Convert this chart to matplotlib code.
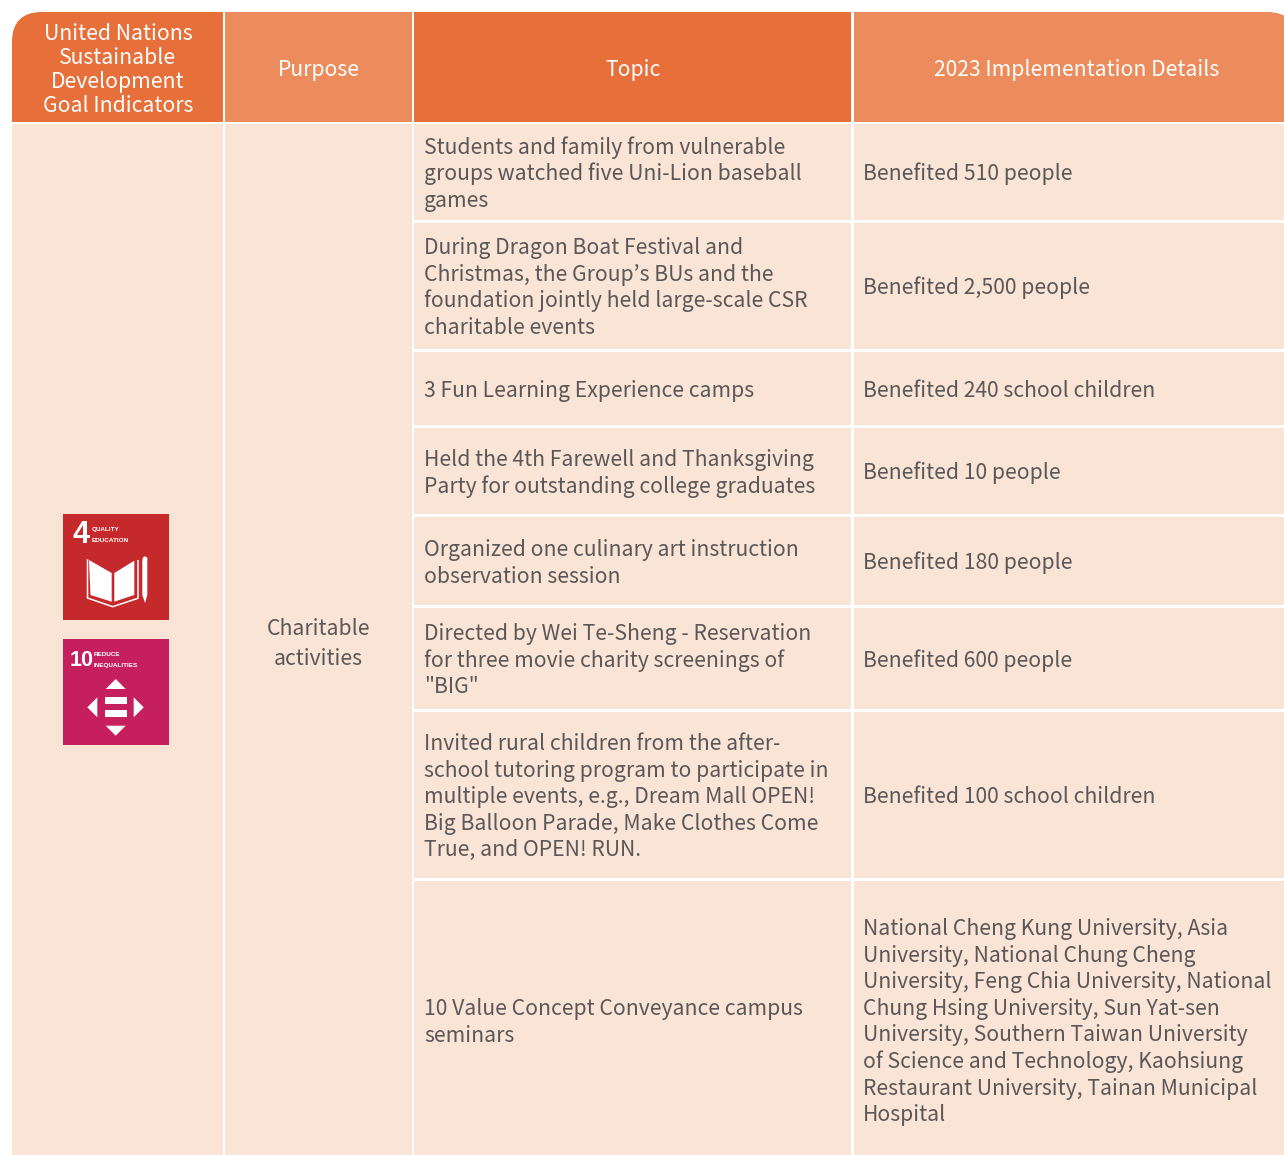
import matplotlib
matplotlib.use('Agg')
import matplotlib.pyplot as plt
from matplotlib.patches import Rectangle, FancyBboxPatch, Polygon, Circle

plt.rcParams['font.family'] = ['Noto Sans CJK KR', 'DejaVu Sans']

ORANGE = '#E66F3A'
ORANGE_LIGHT = '#EC8B5C'
BODY = '#FAE4D6'
TEXT = '#595757'

goal_header = ['United Nations', 'Sustainable', 'Development', 'Goal Indicators']
purpose_header = ['Purpose']
topic_header = ['Topic']
details_header = ['2023 Implementation Details']
purpose = ['Charitable', 'activities']

topics = [
    ['Students and family from vulnerable', 'groups watched five Uni-Lion baseball', 'games'],
    ['During Dragon Boat Festival and', 'Christmas, the Group\u2019s BUs and the',
     'foundation jointly held large-scale CSR', 'charitable events'],
    ['3 Fun Learning Experience camps'],
    ['Held the 4th Farewell and Thanksgiving', 'Party for outstanding college graduates'],
    ['Organized one culinary art instruction', 'observation session'],
    ['Directed by Wei Te-Sheng - Reservation', 'for three movie charity screenings of', '"BIG"'],
    ['Invited rural children from the after-', 'school tutoring program to participate in',
     'multiple events, e.g., Dream Mall OPEN!', 'Big Balloon Parade, Make Clothes Come',
     'True, and OPEN! RUN.'],
    ['10 Value Concept Conveyance campus', 'seminars'],
]
details = [
    ['Benefited 510 people'],
    ['Benefited 2,500 people'],
    ['Benefited 240 school children'],
    ['Benefited 10 people'],
    ['Benefited 180 people'],
    ['Benefited 600 people'],
    ['Benefited 100 school children'],
    ['National Cheng Kung University, Asia', 'University, National Chung Cheng',
     'University, Feng Chia University, National', 'Chung Hsing University, Sun Yat-sen',
     'University, Southern Taiwan University', 'of Science and Technology, Kaohsiung',
     'Restaurant University, Tainan Municipal', 'Hospital'],
]

# layout in pixels of the reference
col_left = [12, 225, 414, 853.5]
col_right = [222.5, 411.5, 851, 1297]
row_top = [124, 223, 352, 428, 517, 608, 712, 881]
row_bottom = [220, 349, 425, 514, 605, 709, 878, 1155]
header_top = 12
header_bottom = 122
body_pitch = 26.6
header_pitch = 24
body_size = 15.25
header_size = 15.25
baseline_shift = 8.2


def draw_lines(ax, x, yc, lines, pitch, color, size, ha='left'):
    y = yc - pitch * (len(lines) - 1) / 2 + baseline_shift
    for line in lines:
        ax.text(x, y, line, color=color, fontsize=size, ha=ha, va='baseline')
        y += pitch


def rect(ax, x0, y0, x1, y1, color, clip=None):
    r = Rectangle((x0, y0), x1 - x0, y1 - y0, facecolor=color, edgecolor='none')
    ax.add_patch(r)
    if clip is not None:
        r.set_clip_path(clip)
    return r


def icon_text(ax, x, y, s, size, ha='left'):
    ax.text(x, y, s, color='white', fontsize=size, fontweight='bold', ha=ha, va='baseline',
            family='Liberation Sans')


def draw_goal4(ax, x, y, s):
    rect(ax, x, y, x + s, y + s, '#C5292B')
    icon_text(ax, x + 18, y + 29, '4', 22, ha='center')
    icon_text(ax, x + 29, y + 16.5, 'QUALITY', 4.6)
    icon_text(ax, x + 29, y + 27.5, 'EDUCATION', 4.6)
    pages = [
        [(26, 46), (48.7, 59), (48.7, 87.7), (27.5, 81)],
        [(51.3, 59), (71.3, 46.7), (71.3, 81), (51.3, 87.7)],
    ]
    for page in pages:
        ax.add_patch(Polygon([(x + a, y + b) for a, b in page], facecolor='white', edgecolor='none'))
    cover = [(24.5, 46), (24.5, 84), (49.7, 92.7), (75, 84.3), (75, 46.7)]
    ax.plot([x + a for a, b in cover], [y + b for a, b in cover], color='white', lw=1.1)
    ax.add_patch(Polygon([(x + 79.3, y + 46), (x + 84.3, y + 46), (x + 84.3, y + 81),
                          (x + 82, y + 89), (x + 79.3, y + 81)], facecolor='white', edgecolor='none'))
    ax.add_patch(Circle((x + 82, y + 45), 2.5, facecolor='white', edgecolor='none'))


def draw_goal10(ax, x, y, s):
    rect(ax, x, y, x + s, y + s, '#C51F5D')
    icon_text(ax, x + 18.5, y + 27, '10', 15.5, ha='center')
    icon_text(ax, x + 31, y + 17.5, 'REDUCE', 4.6)
    icon_text(ax, x + 31, y + 27.5, 'INEQUALITIES', 4.6)
    arrows = [
        [(42.7, 50), (52.7, 40), (62.7, 50)],
        [(42.7, 86.7), (52.7, 96.7), (62.7, 86.7)],
        [(34.3, 58.3), (24.3, 68.3), (34.3, 78.3)],
        [(70.7, 58.3), (80.7, 68.3), (70.7, 78.3)],
    ]
    for arrow in arrows:
        ax.add_patch(Polygon([(x + a, y + b) for a, b in arrow], facecolor='white', edgecolor='none'))
    rect(ax, x + 42, y + 58.3, x + 64.3, y + 65, 'white')
    rect(ax, x + 42, y + 71, x + 64.3, y + 78.3, 'white')


def main():
    fig = plt.figure(figsize=(12.84, 11.55), dpi=100, facecolor='white')
    ax = fig.add_axes([0, 0, 1, 1])
    ax.set_xlim(0, 1284)
    ax.set_ylim(1155, 0)
    ax.axis('off')

    # rounded outline only cuts the two top corners of the header
    outline = FancyBboxPatch((12 + 30, header_top + 30), 1297 - 12 - 60, 1300,
                             boxstyle='round,pad=30,rounding_size=30',
                             facecolor='none', edgecolor='none')
    ax.add_patch(outline)

    header_colors = [ORANGE, ORANGE_LIGHT, ORANGE, ORANGE_LIGHT]
    for i in range(4):
        rect(ax, col_left[i], header_top, col_right[i], header_bottom, header_colors[i], clip=outline)

    # first two columns are one merged cell each
    for i in range(2):
        rect(ax, col_left[i], row_top[0], col_right[i], row_bottom[-1], BODY)
    for i in range(len(row_top)):
        for c in (2, 3):
            rect(ax, col_left[c], row_top[i], col_right[c], row_bottom[i], BODY)

    header_yc = 67.5
    draw_lines(ax, 118, header_yc, goal_header, header_pitch, 'white', header_size, ha='center')
    draw_lines(ax, 318.5, header_yc, purpose_header, header_pitch, 'white', header_size, ha='center')
    draw_lines(ax, 632.5, header_yc, topic_header, header_pitch, 'white', header_size, ha='center')
    draw_lines(ax, 1077, header_yc, details_header, header_pitch, 'white', header_size, ha='center')

    draw_lines(ax, 318.5, 642, purpose, 30, TEXT, body_size, ha='center')

    for i in range(len(row_top)):
        yc = (row_top[i] + row_bottom[i]) / 2
        if i == len(row_top) - 1:
            yc = 1020
        draw_lines(ax, 424, yc, topics[i], body_pitch, TEXT, body_size)
        draw_lines(ax, 863, yc, details[i], body_pitch, TEXT, body_size)

    draw_goal4(ax, 63, 514, 106)
    draw_goal10(ax, 63, 639, 106)

    fig.savefig('out.png', dpi=100)


if __name__ == '__main__':
    main()
